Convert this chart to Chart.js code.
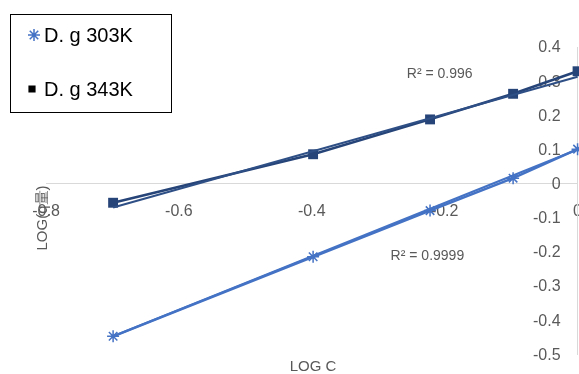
<!DOCTYPE html>
<html>
<head>
<meta charset="utf-8">
<script src="https://cdn.jsdelivr.net/npm/chart.js@4/dist/chart.umd.min.js"></script>
<style>
  html, body { margin: 0; padding: 0; background: #ffffff; overflow: hidden; }
  #wrap { width: 579px; height: 374px; position: relative; overflow: hidden; }
  canvas { display: block; }
</style>
</head>
<body>
<div id="wrap"><canvas id="chart" width="600" height="381"></canvas></div>
<script>
// Adsorption isotherm data (log-log form)
const logC = [-0.699, -0.398, -0.222, -0.097, 0];
const dg303 = [-0.447, -0.214, -0.079, 0.016, 0.101];
const dg343 = [-0.056, 0.086, 0.188, 0.263, 0.329];

// Linear trendline end points for each series
const trendX = [-0.699, 0];
const trend303 = [-0.447, 0.1];
const trend343 = [-0.07, 0.313];

const seriesNames = ['D. g 303K', 'D. g 343K'];
const r2Labels = ['R² = 0.9999', 'R² = 0.996'];
const xTitle = 'LOG C';
const yTitle = 'LOG(q量)';

// Where the R² labels sit, in data units
const r2Anchors = [{ x: -0.226, y: -0.211 }, { x: -0.2075, y: 0.322 }];

const LIGHT = '#4472C4';
const DARK = '#264478';
const TEXT = '#595959';
const FONT = '"Liberation Sans", Arial, sans-serif';

const pts = (xs, ys) => xs.map((x, i) => ({ x, y: ys[i] }));
const fmt = v => String(+Number(v).toFixed(1));

// Value labels of the vertical axis, set just inside the plot on the left of the axis line
const yAxisLabels = {
  id: 'yAxisLabels',
  beforeDatasetsDraw(chart) {
    const { ctx, scales } = chart;
    const axisX = scales.x.getPixelForValue(0);
    ctx.save();
    ctx.fillStyle = TEXT;
    ctx.font = '16px ' + FONT;
    ctx.textAlign = 'right';
    ctx.textBaseline = 'middle';
    scales.y.ticks.forEach(t => {
      ctx.fillText(fmt(t.value), axisX - 17, scales.y.getPixelForValue(t.value) + 1);
    });
    ctx.restore();
  }
};

const overlay = {
  id: 'overlay',
  afterDraw(chart) {
    const { ctx, scales } = chart;
    ctx.save();

    // R² labels
    ctx.fillStyle = TEXT;
    ctx.font = '14px ' + FONT;
    ctx.textAlign = 'center';
    ctx.textBaseline = 'middle';
    r2Labels.forEach((t, i) => {
      ctx.fillText(t, scales.x.getPixelForValue(r2Anchors[i].x), scales.y.getPixelForValue(r2Anchors[i].y));
    });

    // Axis titles
    ctx.font = '15px ' + FONT;
    ctx.fillText(xTitle, 313, 367);
    ctx.save();
    ctx.translate(43, 218);
    ctx.rotate(-Math.PI / 2);
    ctx.fillText(yTitle, 0, 0);
    ctx.restore();

    // Legend box
    ctx.fillStyle = '#ffffff';
    ctx.fillRect(10, 14, 162, 99);
    ctx.strokeStyle = '#000000';
    ctx.lineWidth = 1;
    ctx.strokeRect(10.5, 14.5, 161, 98);

    const markers = [
      { style: 'star', radius: 6, color: LIGHT, y: 35, x: 34 },
      { style: 'rect', radius: 4, color: '#000000', y: 89, x: 32 }
    ];
    ctx.font = '20px ' + FONT;
    ctx.textAlign = 'left';
    ctx.textBaseline = 'middle';
    seriesNames.forEach((name, i) => {
      const m = markers[i];
      ctx.strokeStyle = m.color;
      ctx.fillStyle = m.color;
      ctx.lineWidth = 1.5;
      Chart.helpers.drawPoint(ctx, { pointStyle: m.style, radius: m.radius, rotation: 0, borderWidth: 1.5 }, m.x, m.y);
      if (m.style === 'rect') ctx.fill();
      ctx.fillStyle = '#000000';
      ctx.fillText(name, 44, m.y + 1);
    });

    ctx.restore();
  }
};

new Chart(document.getElementById('chart'), {
  type: 'scatter',
  data: {
    datasets: [
      {
        label: seriesNames[0] + ' trend',
        data: pts(trendX, trend303),
        showLine: true,
        borderColor: LIGHT,
        borderWidth: 2,
        pointRadius: 0,
        clip: false
      },
      {
        label: seriesNames[1] + ' trend',
        data: pts(trendX, trend343),
        showLine: true,
        borderColor: '#2e4f86',
        borderWidth: 2,
        pointRadius: 0,
        clip: false
      },
      {
        label: seriesNames[0],
        data: pts(logC, dg303),
        showLine: true,
        borderColor: LIGHT,
        backgroundColor: LIGHT,
        borderWidth: 2.5,
        pointStyle: 'star',
        pointRadius: 6,
        pointBorderWidth: 1.5,
        pointBorderColor: LIGHT,
        clip: false
      },
      {
        label: seriesNames[1],
        data: pts(logC, dg343),
        showLine: true,
        borderColor: DARK,
        backgroundColor: DARK,
        borderWidth: 2.5,
        pointStyle: 'rect',
        pointRadius: 7,
        pointBorderWidth: 0,
        clip: false
      }
    ]
  },
  options: {
    responsive: false,
    animation: false,
    devicePixelRatio: 1,
    layout: {
      autoPadding: false,
      padding: { left: 46, right: 1, top: 47, bottom: 15.5 }
    },
    plugins: {
      legend: { display: false },
      tooltip: { enabled: false }
    },
    scales: {
      x: {
        type: 'linear',
        min: -0.8,
        max: 0,
        position: { y: 0 },
        grid: { drawOnChartArea: false, drawTicks: false, color: 'rgba(0,0,0,0)' },
        border: { display: true, color: '#d9d9d9', width: 1 },
        ticks: {
          stepSize: 0.2,
          padding: 18,
          color: TEXT,
          font: { family: FONT, size: 16 },
          maxRotation: 0,
          callback: v => fmt(v)
        }
      },
      y: {
        type: 'linear',
        min: -0.5,
        max: 0.4,
        position: { x: 0 },
        grid: { drawOnChartArea: false, drawTicks: false, color: 'rgba(0,0,0,0)' },
        border: { display: true, color: '#d9d9d9', width: 1 },
        ticks: {
          stepSize: 0.1,
          padding: 17,
          color: 'rgba(0,0,0,0)',
          font: { family: FONT, size: 16 },
          callback: v => fmt(v)
        }
      }
    }
  },
  plugins: [yAxisLabels, overlay]
});
</script>
</body>
</html>
